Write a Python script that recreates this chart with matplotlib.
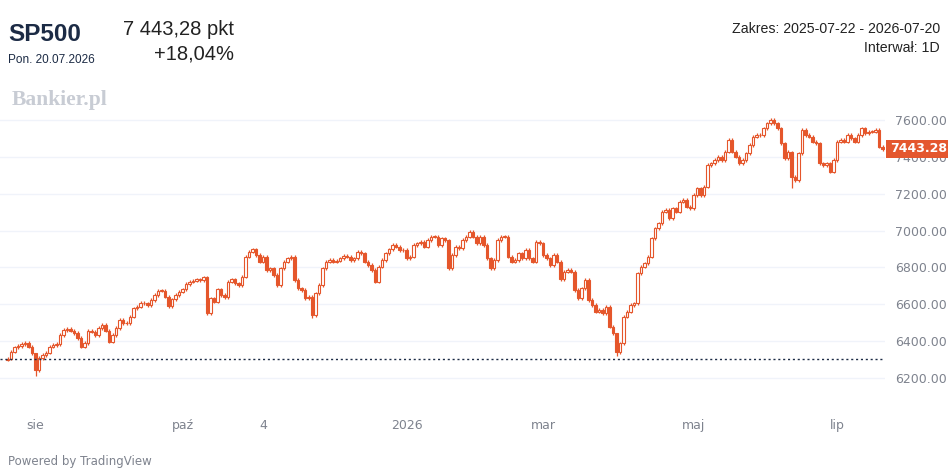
import matplotlib
matplotlib.use("Agg")
import matplotlib.pyplot as plt
from matplotlib.patches import Rectangle
import matplotlib.transforms as mtransforms

# zamkniecia dzienne SP500, 2025-07-22 .. 2026-07-20 (odczyt z wykresu)
closes = [
    6305.7, 6343, 6367, 6374, 6385, 6392, 6370, 6336, 6244, 6309,
    6325, 6337, 6370, 6379, 6385, 6433, 6460, 6466, 6457, 6444,
    6417, 6370, 6390, 6457, 6452, 6433, 6471, 6488, 6457, 6397,
    6433, 6471, 6515, 6498, 6498, 6532, 6578, 6587, 6609, 6605,
    6596, 6623, 6650, 6674, 6674, 6641, 6591, 6627, 6650, 6668,
    6681, 6710, 6723, 6729, 6736, 6732, 6747, 6551, 6632, 6614,
    6681, 6650, 6638, 6723, 6736, 6714, 6705, 6750, 6858, 6885,
    6898, 6867, 6831, 6858, 6786, 6795, 6759, 6705, 6795, 6831,
    6849, 6858, 6732, 6687, 6677, 6632, 6641, 6542, 6660, 6705,
    6795, 6831, 6840, 6831, 6837, 6849, 6862, 6858, 6840, 6849,
    6885, 6877, 6831, 6813, 6786, 6723, 6804, 6840, 6877, 6898,
    6922, 6913, 6895, 6895, 6849, 6858, 6922, 6931, 6940, 6913,
    6949, 6967, 6967, 6922, 6958, 6949, 6795, 6867, 6913, 6904,
    6949, 6967, 6994, 6967, 6931, 6967, 6922, 6849, 6795, 6840,
    6949, 6967, 6967, 6858, 6831, 6840, 6877, 6849, 6895, 6849,
    6831, 6940, 6931, 6867, 6849, 6813, 6867, 6831, 6736, 6777,
    6786, 6777, 6677, 6632, 6687, 6732, 6623, 6596, 6560, 6569,
    6551, 6587, 6479, 6442, 6340, 6388, 6532, 6560, 6596, 6605,
    6768, 6804, 6822, 6858, 6958, 7012, 7040, 7103, 7112, 7067,
    7121, 7103, 7157, 7166, 7130, 7121, 7193, 7229, 7193, 7238,
    7356, 7365, 7383, 7401, 7383, 7428, 7491, 7428, 7401, 7365,
    7383, 7419, 7464, 7510, 7519, 7519, 7555, 7582, 7600, 7582,
    7555, 7473, 7392, 7428, 7292, 7274, 7419, 7546, 7519, 7510,
    7482, 7473, 7365, 7356, 7365, 7319, 7383, 7482, 7491, 7482,
    7519, 7501, 7482, 7519, 7555, 7528, 7537, 7537, 7546, 7455,
    7443.28,
]
first_open = 6300.0

# wyrazne knoty (indeks swiecy: minimum, maksimum)
long_wicks = {
    8: (6210, 6300),
    57: (6540, 6752),
    87: (6525, 6650),
    126: (6785, 6955),
    174: (6318, 6445),
    224: (7232, 7430),
}

tick_pos = [8, 50, 73, 114, 153, 196, 237]
tick_labels = ['sie', 'paź', '4', '2026', 'mar', 'maj', 'lip']
y_ticks = [6200, 6400, 6600, 6800, 7000, 7200, 7400, 7600]

base_level = 6305.7
last_price = 7443.28

ORANGE = '#e5562b'
GRAY = '#7e838e'
NAVY = '#1c2b45'

W, H = 948, 468


def px(x, y):
    return x / W, 1 - y / H


fig = plt.figure(figsize=(W / 100, H / 100), dpi=100)
fig.patch.set_facecolor('white')
ax = fig.add_axes([0, 68 / H, 885 / W, 300 / H])

opens = [first_open] + closes[:-1]
for i, (o, c) in enumerate(zip(opens, closes)):
    lo, hi = min(o, c), max(o, c)
    wlo, whi = long_wicks.get(i, (lo - 9, hi + 9))
    ax.vlines(i, wlo, whi, color=ORANGE, lw=0.9, zorder=2)
    up = c >= o
    ax.bar(i, max(hi - lo, 2), bottom=lo, width=0.72,
           facecolor='white' if up else ORANGE, edgecolor=ORANGE,
           linewidth=0.8, zorder=3)

ax.axhline(base_level, color=NAVY, lw=1, linestyle=(0, (1.5, 2)), zorder=4)

ax.set_xlim(-2.17, 250.7)
ax.set_ylim(6080.7, 7708.5)
for s in ax.spines.values():
    s.set_visible(False)
ax.set_yticks(y_ticks)
ax.set_yticklabels(['%.2f' % v for v in y_ticks])
ax.yaxis.tick_right()
ax.grid(axis='y', color='#f0f3fa', lw=1, zorder=0)
ax.set_axisbelow(True)
ax.tick_params(axis='y', length=0, pad=7.5, labelsize=9, labelcolor=GRAY)
ax.set_xticks(tick_pos)
ax.set_xticklabels(tick_labels)
ax.tick_params(axis='x', length=0, pad=14, labelsize=9, labelcolor=GRAY)

# etykieta ostatniej ceny (zaslania 7400.00 jak w oryginale)
trans = mtransforms.blended_transform_factory(ax.transAxes, ax.transData)
box_h = 18 * 5.426
ax.add_patch(Rectangle((1.001, last_price - box_h / 2), 0.075, box_h,
                       transform=trans, facecolor='#e4572e', edgecolor='none',
                       clip_on=False, zorder=5))
ax.text(1.0385, last_price, '%.2f' % last_price, transform=trans,
        ha='center', va='center', color='white', fontsize=9,
        fontweight='bold', zorder=6, clip_on=False)

# naglowek
hf = 'Liberation Sans'
fig.text(*px(8, 41), 'SP500', fontsize=17.5, fontweight='bold', color=NAVY,
         family=hf, va='baseline')
fig.text(*px(8, 63), 'Pon. 20.07.2026', fontsize=8.5, color=NAVY,
         family=hf, va='baseline')
fig.text(*px(234, 35), '7 443,28 pkt', fontsize=14.5, color='#222222',
         family=hf, va='baseline', ha='right')
fig.text(*px(234, 60), '+18,04%', fontsize=14.5, color='#222222',
         family=hf, va='baseline', ha='right')
fig.text(*px(940, 33), 'Zakres: 2025-07-22 - 2026-07-20', fontsize=10.2,
         color='#222222', family=hf, va='baseline', ha='right')
fig.text(*px(940, 52), 'Interwał: 1D', fontsize=10.2, color='#222222',
         family=hf, va='baseline', ha='right')
fig.text(*px(12, 105), 'Bankier.pl', fontsize=15.5, fontweight='bold',
         color='#c8ccd4', family='Liberation Serif', va='baseline')
fig.text(*px(8, 465), 'Powered by TradingView', fontsize=8.5, color=GRAY,
         va='baseline')

fig.savefig('out.png', dpi=100, facecolor='white')
